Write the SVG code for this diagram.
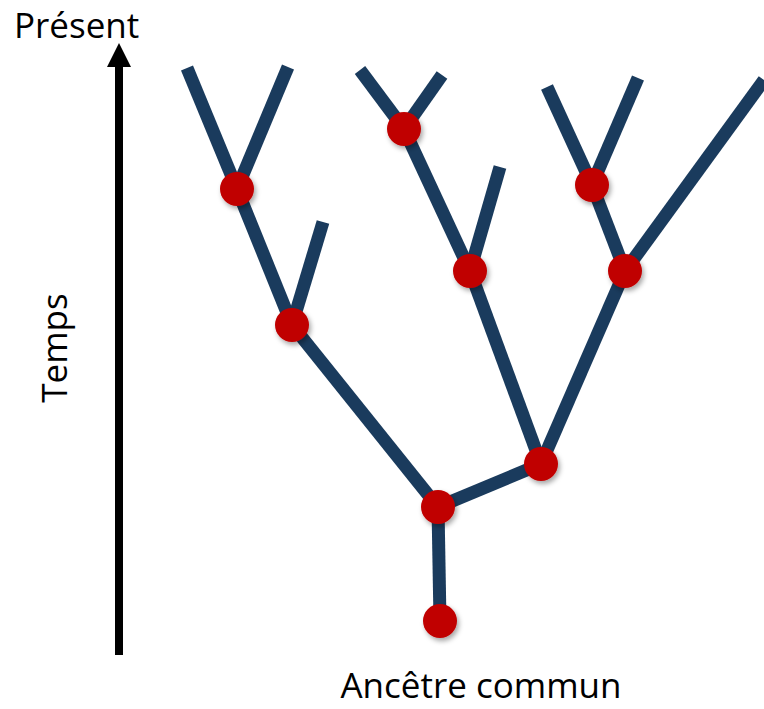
<svg xmlns="http://www.w3.org/2000/svg" width="764" height="709" viewBox="0 0 764 709">
<style>
.br{stroke:#1a3b5d;stroke-width:13;stroke-linecap:butt;fill:none}
.nd{fill:#c00000;filter:url(#sh)}
.lbl{font-family:"Open Sans","Liberation Sans",sans-serif;font-size:35px;fill:#000}
</style>
<defs>
<filter id="sh" x="-50%" y="-50%" width="200%" height="200%">
<feDropShadow dx="2" dy="3" stdDeviation="2.5" flood-color="#000" flood-opacity="0.35"/>
</filter>
</defs>
<rect width="764" height="709" fill="#fff"/>
<g id="axis">
<line x1="119" y1="655" x2="119" y2="66" stroke="#000" stroke-width="8"/>
<polygon points="107,67 131,67 119,43" fill="#000"/>
</g>
<g id="connectors">
<line class="br" x1="237" y1="189" x2="187" y2="68"/>
<line class="br" x1="237" y1="189" x2="288" y2="67"/>
<line class="br" x1="237" y1="189" x2="292" y2="325"/>
<line class="br" x1="292" y1="325" x2="323" y2="222"/>
<line class="br" x1="292" y1="325" x2="438" y2="507"/>
<line class="br" x1="404" y1="129" x2="360" y2="70"/>
<line class="br" x1="404" y1="129" x2="442" y2="75"/>
<line class="br" x1="404" y1="129" x2="470" y2="271"/>
<line class="br" x1="470" y1="271" x2="500" y2="167"/>
<line class="br" x1="470" y1="271" x2="541" y2="464"/>
<line class="br" x1="592" y1="185" x2="547" y2="87"/>
<line class="br" x1="592" y1="185" x2="638" y2="78"/>
<line class="br" x1="592" y1="185" x2="625" y2="271"/>
<line class="br" x1="625" y1="271" x2="764" y2="80"/>
<line class="br" x1="625" y1="271" x2="541" y2="464"/>
<line class="br" x1="541" y1="464" x2="438" y2="507"/>
<line class="br" x1="438" y1="507" x2="440" y2="621"/>
</g>
<g id="n1"><circle class="nd" cx="237" cy="189" r="17"/></g>
<g id="n2"><circle class="nd" cx="292" cy="325" r="17"/></g>
<g id="n3"><circle class="nd" cx="404" cy="129" r="17"/></g>
<g id="n4"><circle class="nd" cx="470" cy="271" r="17"/></g>
<g id="n5"><circle class="nd" cx="592" cy="185" r="17"/></g>
<g id="n6"><circle class="nd" cx="625" cy="271" r="17"/></g>
<g id="n7"><circle class="nd" cx="541" cy="464" r="17"/></g>
<g id="n8"><circle class="nd" cx="438" cy="507" r="17"/></g>
<g id="n9"><circle class="nd" cx="440" cy="621" r="17"/></g>
<text class="lbl" x="14" y="38">Présent</text>
<text class="lbl" transform="translate(67,348) rotate(-90)" text-anchor="middle">Temps</text>
<text class="lbl" x="481" y="698" text-anchor="middle">Ancêtre commun</text>
</svg>
